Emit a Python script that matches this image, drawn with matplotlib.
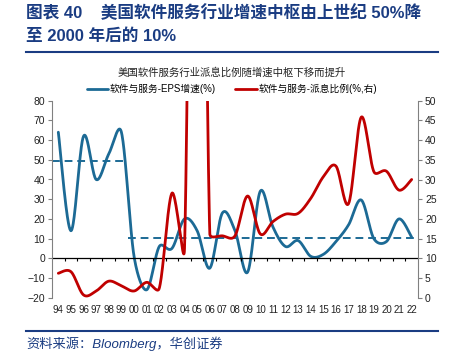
import numpy as np
import matplotlib
matplotlib.use("Agg")
import matplotlib.pyplot as plt
from matplotlib.lines import Line2D

plt.rcParams['font.family'] = ['Liberation Sans', 'Noto Sans CJK SC']

years = ['94', '95', '96', '97', '98', '99', '00', '01', '02', '03', '04', '05', '06', '07',
         '08', '09', '10', '11', '12', '13', '14', '15', '16', '17', '18', '19', '20', '21', '22']
eps_growth = [64, 14, 62, 40, 53, 64, 1, -16, 6, 5, 20, 14, -5, 23,
              14, -7, 34, 16, 6, 9, 1, 2, 8.5, 17, 29.6, 10, 8.5, 20, 10.7]
payout = [6.2, 6.6, 0.7, 1.7, 4.2, 3.0, 1.7, 3.9, 2.4, 26.5, 12.5, 250, 16.3, 15.7,
          15.7, 25.8, 16.2, 19.3, 21.2, 21.4, 25.2, 30.7, 33.4, 23.9, 45.8, 32, 32.1, 27.3, 30]
avg_before = 49.5
avg_after = 10.5

BLUE = '#1C6A95'
RED = '#C00000'
NAVY = '#1A3C82'


def smooth(xs, ys, sx, sy, n=40):
    # excel-like smoothed line: bezier segments, arms limited to half a segment
    P = np.column_stack([np.asarray(xs, float) * sx, np.asarray(ys, float) * sy])
    N = len(P)
    t = np.linspace(0, 1, n)[:, None]
    out = []
    for i in range(N - 1):
        p0 = P[i - 1] if i > 0 else P[i]
        p1, p2 = P[i], P[i + 1]
        p3 = P[i + 2] if i + 2 < N else P[i + 1]
        d12 = np.linalg.norm(p2 - p1)
        d02 = np.linalg.norm(p2 - p0)
        d13 = np.linalg.norm(p3 - p1)
        f1 = f2 = 1 / 6
        if d02 > 0 and d02 / 6 > d12 / 2:
            f1 = d12 / (2 * d02)
        if d13 > 0 and d13 / 6 > d12 / 2:
            f2 = d12 / (2 * d13)
        c1 = p1 + f1 * (p2 - p0)
        c2 = p2 - f2 * (p3 - p1)
        seg = ((1 - t) ** 3) * p1 + 3 * ((1 - t) ** 2) * t * c1 + 3 * (1 - t) * t ** 2 * c2 + t ** 3 * p2
        out.append(seg if i == 0 else seg[1:])
    out = np.vstack(out)
    return out[:, 0] / sx, out[:, 1] / sy


fig = plt.figure(figsize=(4.54, 3.52), dpi=100)
W, H = 454, 352
ax = fig.add_axes([52 / W, 1 - 297.7 / H, 366 / W, 197 / H])
ax2 = ax.twinx()

x = np.arange(len(years))
bx, by = smooth(x, eps_growth, 12.68, 1.97)
rx, ry = smooth(x, payout, 12.68, 3.94)

l1, = ax.plot(bx, by, color=BLUE, lw=2.0, solid_capstyle='round')
ax.hlines(avg_before, -0.5, 5.3, colors=BLUE, linestyles=(0, (4, 2.5)), lw=1.4)
ax.hlines(avg_after, 5.5, 28.5, colors=BLUE, linestyles=(0, (4, 2.5)), lw=1.4)
l2, = ax2.plot(rx, ry, color=RED, lw=2.0, solid_capstyle='round')

ax.axhline(0, color='black', lw=0.9)
ax.vlines(np.arange(0.5, len(years) - 1, 1), -1.6, 0, colors='black', lw=0.8)

ax.set_xlim(-0.5, len(years) - 0.5)
ax.set_ylim(-20, 80)
ax.set_yticks(np.arange(-20, 81, 10))
ax2.set_ylim(0, 50)
ax2.set_yticks(np.arange(0, 51, 5))
ax.set_xticks(x)
ax.set_xticklabels(years)

for a in (ax, ax2):
    for s in ('top', 'bottom'):
        a.spines[s].set_visible(False)
ax.spines['right'].set_visible(False)
ax2.spines['left'].set_visible(False)
ax.spines['left'].set_color('#808080')
ax2.spines['right'].set_color('#808080')
ax.tick_params(axis='x', length=0, pad=5, labelsize=7, colors='#222222')
ax.tick_params(axis='y', length=3, width=0.8, color='#808080', labelsize=7.5,
               labelcolor='#222222', pad=2)
ax2.tick_params(axis='y', length=3, width=0.8, color='#808080', labelsize=7.5,
                labelcolor='#222222', pad=2)

fig.text(232 / W, 1 - 73 / H, '美国软件服务行业派息比例随增速中枢下移而提升',
         ha='center', va='center', fontsize=7.5, color='#222222')
fig.legend([l1, l2], ['软件与服务-EPS增速(%)', '软件与服务-派息比例(%,右)'],
           loc='center', bbox_to_anchor=(232 / W, 1 - 89 / H), ncol=2, frameon=False,
           fontsize=7, handlelength=2.2, handletextpad=0.2, columnspacing=2.0,
           borderpad=0)

fig.text(26 / W, 1 - 13 / H, '图表 40    美国软件服务行业增速中枢由上世纪 50%降',
         ha='left', va='center', fontsize=12, fontweight='bold', color=NAVY)
fig.text(26 / W, 1 - 36 / H, '至 2000 年后的 10%',
         ha='left', va='center', fontsize=12, fontweight='bold', color=NAVY)
fig.add_artist(Line2D([26 / W, 438 / W], [1 - 52 / H, 1 - 52 / H], color=NAVY, lw=1.5))
fig.add_artist(Line2D([26 / W, 438 / W], [1 - 331 / H, 1 - 331 / H], color=NAVY, lw=1.5))
fig.text(26 / W, 1 - 344 / H, '资料来源：Bloomberg，华创证券',
         ha='left', va='center', fontsize=9.5, color=NAVY, style='italic')

fig.savefig('out.png', dpi=100)
